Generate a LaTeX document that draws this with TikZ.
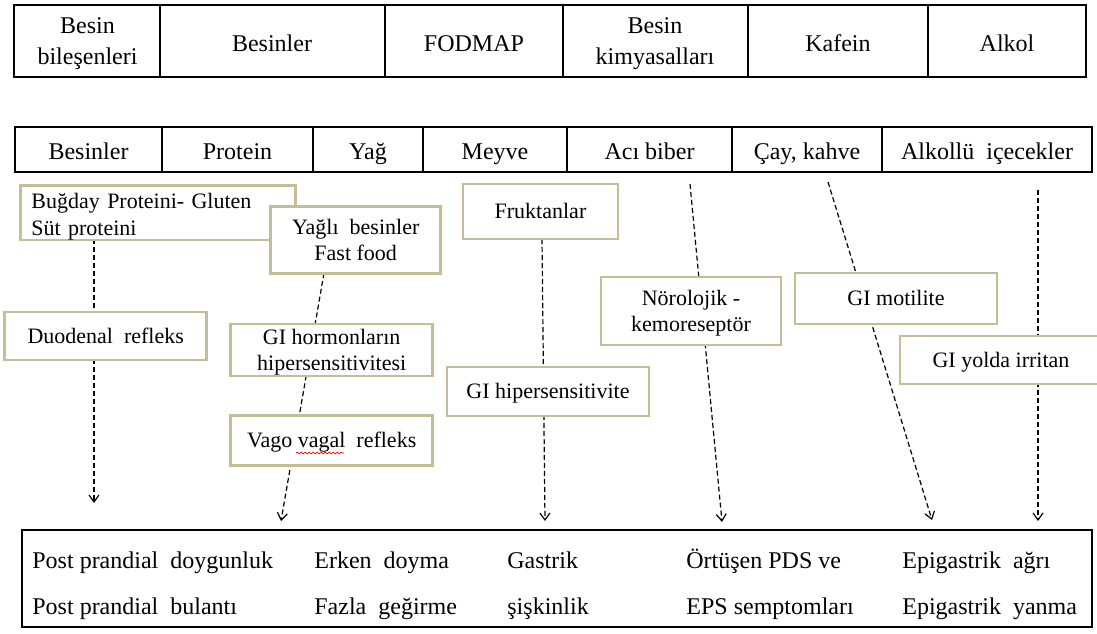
\documentclass[tikz,border=0pt]{standalone}
\usepackage{fontspec}
\setmainfont{Liberation Serif}
\usepackage{xcolor}
\usetikzlibrary{arrows.meta,decorations.pathmorphing}

\definecolor{kutucizgi}{RGB}{196,189,151}

\tikzset{
	kutu/.style={draw=kutucizgi, line width=1.3pt, fill=white, inner sep=0pt, align=center, font=\fontsize{11}{13}\selectfont},
	tekkutu/.style={kutu, text height=8pt, text depth=1pt},
	hucre/.style={anchor=base, inner sep=0pt, align=center, font=\fontsize{12}{15.5}\selectfont},
	yazi/.style={anchor=base west, inner sep=0pt, font=\fontsize{12}{14}\selectfont},
	kesik/.style={dash pattern=on 2.5pt off 1.5pt, line width=0.6pt},
}

\begin{document}
\begin{tikzpicture}[x=0.5pt,y=-0.5pt,>={Straight Barb[length=3.5pt,width=5pt]}]
	\clip (0,0) rectangle (1097,633);
	% ust tablo
	\draw[line width=1.2pt] (14,5) rectangle (1086,77);
	\draw[line width=0.8pt] (160,5) -- (160,77);
	\draw[line width=0.8pt] (385,5) -- (385,77);
	\draw[line width=0.8pt] (563,5) -- (563,77);
	\draw[line width=0.8pt] (748,5) -- (748,77);
	\draw[line width=0.8pt] (928,5) -- (928,77);
	%
	\node[hucre] (bilesen) at (87.5,64) {Besin\\bileşenleri};
	\node[hucre] (besin1) at (272,51) {Besinler};
	\node[hucre] (fodmap) at (474,51) {FODMAP};
	\node[hucre] (kimya) at (655,64) {Besin\\kimyasalları};
	\node[hucre] (kafein) at (838,51) {Kafein};
	\node[hucre] (alkol1) at (1007,51) {Alkol};
	%
	% ikinci tablo
	\draw[line width=1.2pt] (15,127) rectangle (1092,172);
	\draw[line width=0.8pt] (162,127) -- (162,172);
	\draw[line width=0.8pt] (313,127) -- (313,172);
	\draw[line width=0.8pt] (423,127) -- (423,172);
	\draw[line width=0.8pt] (567,127) -- (567,172);
	\draw[line width=0.8pt] (732,127) -- (732,172);
	\draw[line width=0.8pt] (882,127) -- (882,172);
	%
	\node[hucre] (besin2) at (88.5,159) {Besinler};
	\node[hucre] (protein) at (237.5,159) {Protein};
	\node[hucre] (yag) at (368,159) {Yağ};
	\node[hucre] (meyve) at (495,159) {Meyve};
	\node[hucre] (biber) at (649.5,159) {Acı biber};
	\node[hucre] (cay) at (807,159) {Çay, kahve};
	\node[hucre] (alkol2) at (987,159) {Alkollü\ \ içecekler};
	%
	% kesikli oklar (kutularin arkasinda)
	\coordinate (protust) at (94,239);
	\coordinate (protuc) at (94,503);
	\coordinate (yagust) at (324,273);
	\coordinate (yaguc) at (281,521);
	\coordinate (meyust) at (542,239);
	\coordinate (meyuc) at (545,521);
	\coordinate (biberust) at (690,184);
	\coordinate (biberuc) at (722,522);
	\coordinate (cayust) at (828,182);
	\coordinate (cayuc) at (932,520);
	\coordinate (alkust) at (1038,190);
	\coordinate (alkuc) at (1038,521);
	\draw[kesik,->] (protust) -- (protuc);
	\draw[kesik,->] (yagust) -- (yaguc);
	\draw[kesik,->] (meyust) -- (meyuc);
	\draw[kesik,->] (biberust) -- (biberuc);
	\draw[kesik,->] (cayust) -- (cayuc);
	\draw[kesik,->] (alkust) -- (alkuc);
	%
	% kutular
	\node[kutu, align=left, text width=126.5pt, inner xsep=5.5pt, minimum height=26.5pt, text height=11.5pt, font=\fontsize{11}{13.5}\selectfont] (bugday) at (158,212.7) {Buğday\ Proteini- Gluten\\Süt proteini};
	\node[kutu, minimum width=85pt, minimum height=33.3pt] (yagli) at (355.7,240) {Yağlı\ \ besinler\\Fast food};
	\node[tekkutu, minimum width=77.5pt, minimum height=27.5pt] (fruktan) at (540.5,211.5) {Fruktanlar};
	\node[tekkutu, minimum width=101pt, minimum height=24pt] (duodenal) at (105.7,336) {Duodenal\ \ refleks};
	\node[kutu, minimum width=101pt, minimum height=26pt, text depth=0pt] (hormon) at (331.7,350) {GI hormonların\\hipersensitivitesi};
	\node[tekkutu, minimum width=101pt, minimum height=25pt] (vago) at (331.7,440.7) {Vago vagal\ \ refleks};
	\node[tekkutu, minimum width=101pt, minimum height=24.5pt] (hipersens) at (548,391.5) {GI hipersensitivite};
	\node[kutu, minimum width=90pt, minimum height=34pt, text depth=0pt] (norolojik) at (691,311) {Nörolojik -\\kemoreseptör};
	\node[tekkutu, minimum width=101pt, minimum height=25.5pt] (motilite) at (896,298.5) {GI motilite};
	\node[tekkutu, minimum width=101pt, minimum height=24pt] (irritan) at (1001,360) {GI yolda irritan};
	\draw[red, line width=0.35pt, decorate, decoration={snake, amplitude=0.45pt, segment length=2pt}] (296,453) -- (344,453);
	%
	% alt tablo
	\draw[line width=1.1pt] (22,530) rectangle (1092,627);
	\node[yazi] (ppdoy) at (32,568) {Post prandial\ \ doygunluk};
	\node[yazi] (ppbul) at (32,614) {Post prandial\ \ bulantı};
	\node[yazi] (erken) at (314,568) {Erken\ \ doyma};
	\node[yazi] (gegir) at (314,614) {Fazla\ \ geğirme};
	\node[yazi] (gastrik) at (507,568) {Gastrik};
	\node[yazi] (siskin) at (507,614) {şişkinlik};
	\node[yazi] (ortusen) at (686,568) {Örtüşen PDS ve};
	\node[yazi] (eps) at (686,614) {EPS semptomları};
	\node[yazi] (agri) at (902,568) {Epigastrik\ \ ağrı};
	\node[yazi] (yanma) at (902,614) {Epigastrik\ \ yanma};
\end{tikzpicture}
\end{document}
